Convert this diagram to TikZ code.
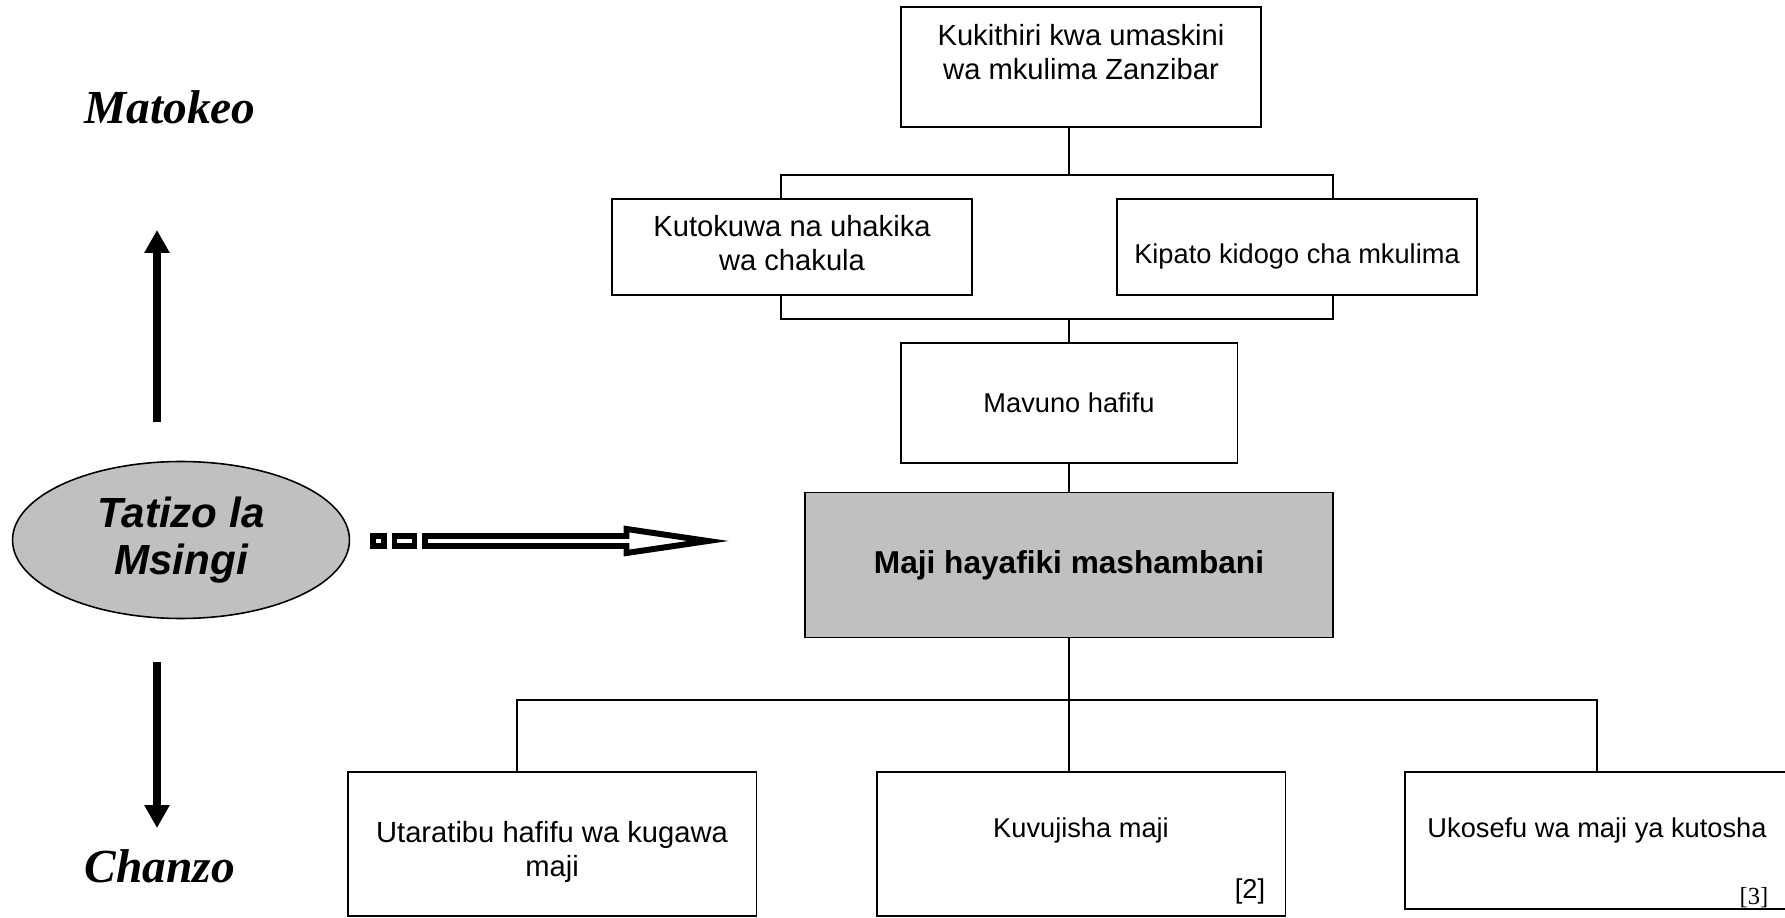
\documentclass[tikz,border=0pt]{standalone}
\usepackage{fontspec}
\setmainfont{Liberation Sans}
\newfontfamily\serifit{Liberation Serif}
\usetikzlibrary{arrows.meta,shapes.geometric}
\definecolor{boxgray}{HTML}{C0C0C0}
\begin{document}
\begin{tikzpicture}[x=0.02cm, y=-0.02cm]
    \tikzstyle{every node} = [align=center, font=\fontsize{15.5}{19.5}\selectfont]
    \tikzstyle{wide} = [font=\fontsize{16.6}{19.8}\selectfont]
    \tikzstyle{box} = [draw, line width=1.1pt, inner sep=0pt, minimum width=7.2cm, minimum height=2.4cm]
    \tikzstyle{lowbox} = [box, minimum width=8.18cm, minimum height=2.88cm]
    \tikzstyle{link} = [line width=0.9pt]
    \tikzstyle{side} = [font=\serifit\bfseries\itshape\fontsize{27}{30}\selectfont]
    \tikzstyle{bigarrow} = [line width=0.16cm, -{Triangle[length=0.46cm, width=0.48cm]}]
    \tikzstyle{hollow} = [line width=3.4pt]
    \useasboundingbox (0,0) rectangle (1785,918);
    % effects
    \node [box] (top) at (1081,67) {};
    \node [wide] (topT) at (1081,52) {Kukithiri kwa umaskini\\wa mkulima Zanzibar};
    \node [box, minimum height=1.92cm] (kut) at (792,247) {};
    \node [wide] (kutT) at (792,243) {Kutokuwa na uhakika\\wa chakula};
    \node [box, minimum height=1.92cm] (kip) at (1297,247) {};
    \node (kipT) at (1297,256) {Kipato kidogo cha mkulima};
    \node [box, minimum width=6.74cm] (mav) at (1069,403) {Mavuno hafifu};
    % core problem
    \node [box, fill=boxgray, minimum width=10.56cm, minimum height=2.9cm,
        font=\bfseries\fontsize{18}{22}\selectfont] (maji) at (1069,565) {Maji hayafiki mashambani};
    % causes
    \node [lowbox] (b1) at (552,844) {};
    \node [wide] (b1T) at (552,852) {Utaratibu hafifu wa kugawa\\maji};
    \node [lowbox] (b2) at (1081,844) {};
    \node (b2T) at (1081,830) {Kuvujisha maji};
    \node (ref2) at (1250,891) {[2]};
    \node [lowbox, minimum width=7.7cm, minimum height=2.74cm] (b3) at (1597,840.5) {};
    \node (b3T) at (1597,830) {Ukosefu wa maji ya kutosha};
    \node [font=\serifit\fontsize{14}{16}\selectfont] (ref3) at (1754,898) {[3]};
    % connectors
    \coordinate (jl1) at (781,175);
    \coordinate (jr1) at (1333,175);
    \coordinate (jl2) at (781,319);
    \coordinate (jr2) at (1333,319);
    \coordinate (jl3) at (517,700);
    \coordinate (jr3) at (1597,700);
    \draw [link] (mav.north |- top.south) -- (mav.north |- jl1);
    \draw [link] (jl1 |- kut.north) -- (jl1) -- (jr1) -- (jr1 |- kip.north);
    \draw [link] (jl2 |- kut.south) -- (jl2) -- (jr2) -- (jr2 |- kip.south);
    \draw [link] (mav.north |- jl2) -- (mav.north);
    \draw [link] (mav.south) -- (maji.north);
    \draw [link] (jl3 |- b1.north) -- (jl3) -- (jr3) -- (jr3 |- b3.north);
    \draw [link] (maji.south) -- (maji.south |- b2.north);
    % left side
    \node [ellipse, draw, line width=0.9pt, fill=boxgray, minimum width=6.74cm, minimum height=3.14cm,
        font=\bfseries\itshape\fontsize{24}{27}\selectfont] (tatizo) at (181,540) {Tatizo la\\Msingi};
    \node [side] (matokeo) at (170,107) {Matokeo};
    \node [side] (chanzo) at (160,866) {Chanzo};
    \coordinate (upS) at (157,422);
    \coordinate (upE) at (157,230);
    \coordinate (dnS) at (157,662);
    \coordinate (dnE) at (157,828);
    \draw [bigarrow] (upS) -- (upE);
    \draw [bigarrow] (dnS) -- (dnE);
    % hollow pointer
    \draw [hollow] (373,536) rectangle (384,546);
    \draw [hollow] (394.5,536) rectangle (414.5,546);
    \draw [hollow] (425,536) -- (626.5,536) -- (626.5,529) -- (708,541) -- (626.5,553)
        -- (626.5,546) -- (425,546) -- cycle;
\end{tikzpicture}
\end{document}
